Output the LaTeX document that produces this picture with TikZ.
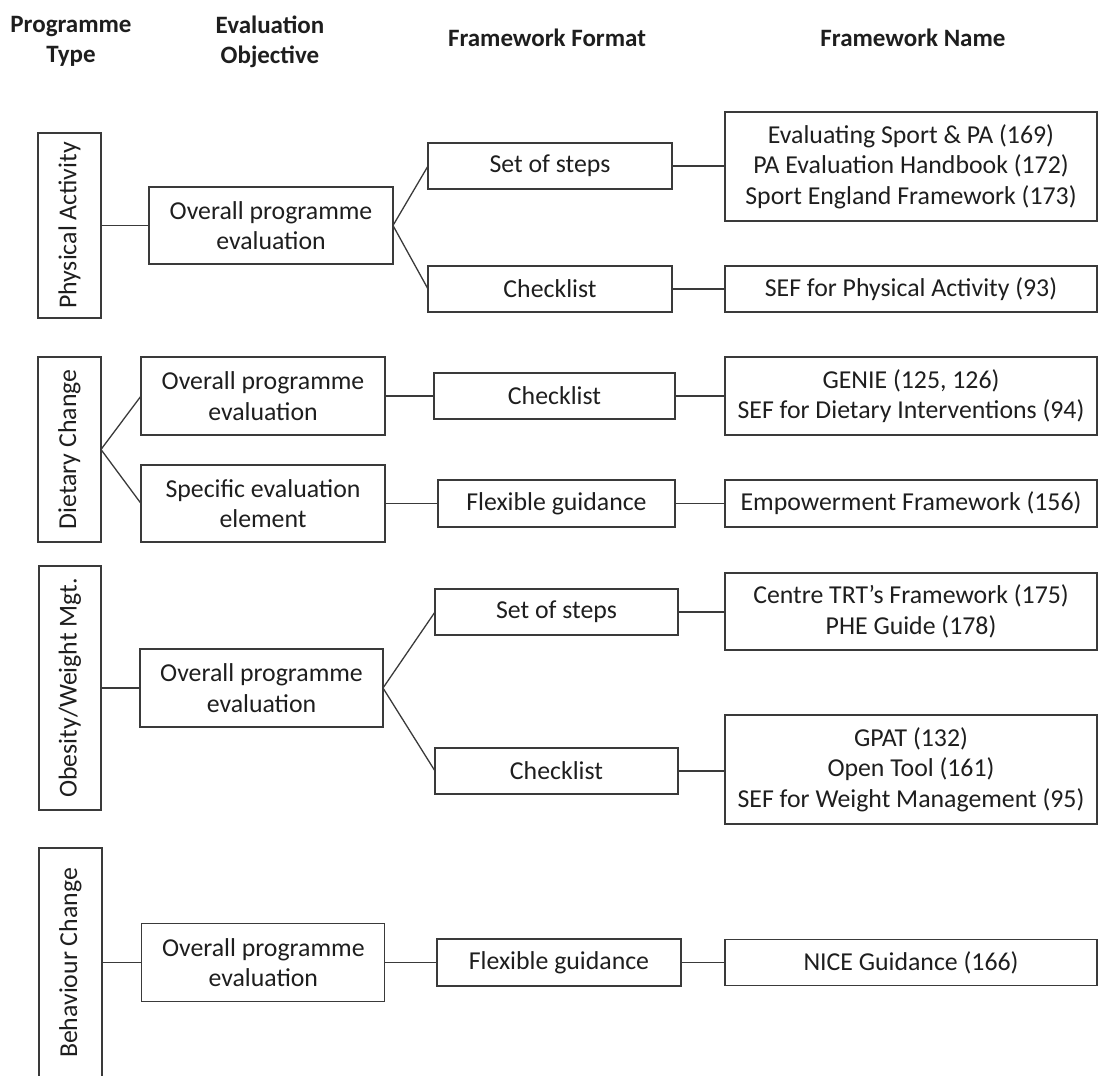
\documentclass[tikz,border=0pt]{standalone}
\usepackage{fontspec}
\setmainfont{Carlito}
\definecolor{linegray}{RGB}{58,58,58}
\definecolor{inkgray}{RGB}{30,30,30}
\begin{document}
\begin{tikzpicture}[x=1pt,y=-1pt,
  every node/.style={inner sep=0pt, outer sep=0pt, text=inkgray,
    font=\fontsize{25.8}{30.5}\selectfont},
  head/.style={align=center, font=\fontsize{25}{30}\selectfont\bfseries},
  box/.style={draw=linegray, line width=1.3pt, rectangle, align=center},
  typebox/.style={box, rotate=90},
  link/.style={draw=linegray, line width=1.3pt}]
\useasboundingbox (0,0) rectangle (1099,1075);
\clip (0,0) rectangle (1099,1075);

% column headings
\node[head] (hType) at (71,41.5) {Programme\\Type};
\node[head] (hObj)  at (270,41.5) {Evaluation\\Objective};
\node[head, anchor=base] (hFmt)  at (547,46.7) {Framework Format};
\node[head, anchor=base] (hName) at (913,46.7) {Framework Name};

% ---- Physical Activity
\node[typebox, minimum width=185pt, minimum height=63pt] (paT) at (69.5,225.5) {Physical Activity};
\node[box, minimum width=244pt, minimum height=77pt] (paE) at (271,225.5) {Overall programme\\evaluation};
\node[box, minimum width=244pt, minimum height=46pt] (paF1) at (550,166) {Set of steps};
\node[box, minimum width=244pt, minimum height=46pt] (paF2) at (550,289) {Checklist};
\node[box, minimum width=372pt, minimum height=109pt] (paN1) at (911,166.5)
  {Evaluating Sport \& PA (169)\\PA Evaluation Handbook (172)\\Sport England Framework (173)};
\node[box, minimum width=372pt, minimum height=46pt] (paN2) at (911,289) {SEF for Physical Activity (93)};

\draw[link] (paT.south) -- (paE.west);
\draw[link] (paF1.west) -- (paE.east) -- (paF2.west);
\draw[link] (paF1.east) -- (paF1.east -| paN1.west);
\draw[link] (paF2.east) -- (paN2.west);

% ---- Dietary Change
\node[typebox, minimum width=185pt, minimum height=63pt] (dcT) at (69.5,449.5) {Dietary Change};
\node[box, minimum width=244pt, minimum height=78pt] (dcE1) at (263,396) {Overall programme\\evaluation};
\node[box, minimum width=244pt, minimum height=77pt] (dcE2) at (263,503.5) {Specific evaluation\\element};
\node[box, minimum width=241pt, minimum height=46pt] (dcF1) at (554.5,396) {Checklist};
\node[box, minimum width=237pt, minimum height=47pt] (dcF2) at (556.5,503.5) {Flexible guidance};
\node[box, minimum width=372pt, minimum height=78pt] (dcN1) at (911,396)
  {GENIE (125, 126)\\SEF for Dietary Interventions (94)};
\node[box, minimum width=372pt, minimum height=47pt] (dcN2) at (911,503.5) {Empowerment Framework (156)};

\draw[link] (dcE1.west) -- (dcT.south) -- (dcE2.west);
\draw[link] (dcE1.east) -- (dcF1.west);
\draw[link] (dcE2.east) -- (dcF2.west);
\draw[link] (dcF1.east) -- (dcN1.west);
\draw[link] (dcF2.east) -- (dcN2.west);

% ---- Obesity / Weight Management
\node[typebox, minimum width=244pt, minimum height=62pt] (obT) at (70,688) {Obesity/Weight Mgt.};
\node[box, minimum width=243pt, minimum height=78pt] (obE) at (261.5,688) {Overall programme\\evaluation};
\node[box, minimum width=243pt, minimum height=46pt] (obF1) at (556.5,612) {Set of steps};
\node[box, minimum width=243pt, minimum height=46pt] (obF2) at (556.5,771) {Checklist};
\node[box, minimum width=372pt, minimum height=77pt] (obN1) at (911,611.5)
  {Centre TRT’s Framework (175)\\PHE Guide (178)};
\node[box, minimum width=372pt, minimum height=109pt] (obN2) at (911,769.5)
  {GPAT (132)\\Open Tool (161)\\SEF for Weight Management (95)};

\draw[link] (obT.south) -- (obE.west);
\draw[link] (obF1.west) -- (obE.east) -- (obF2.west);
\draw[link] (obF1.east) -- (obF1.east -| obN1.west);
\draw[link] (obF2.east) -- (obF2.east -| obN2.west);

% ---- Behaviour Change (box runs past the lower edge)
\node[typebox, minimum width=230pt, minimum height=63pt] (bcT) at (70.5,963) {Behaviour Change};
\node[box, minimum width=243pt, minimum height=78pt] (bcE) at (263.3,962.7) {Overall programme\\evaluation};
\node[box, minimum width=244pt, minimum height=47pt] (bcF) at (559,962.5) {Flexible guidance};
\node[box, minimum width=372pt, minimum height=46pt] (bcN) at (911,962.5) {NICE Guidance (166)};

\draw[link] (bcT.south |- bcE.west) -- (bcE.west);
\draw[link] (bcE.east) -- (bcE.east -| bcF.west);
\draw[link] (bcF.east) -- (bcN.west);
\end{tikzpicture}
\end{document}
